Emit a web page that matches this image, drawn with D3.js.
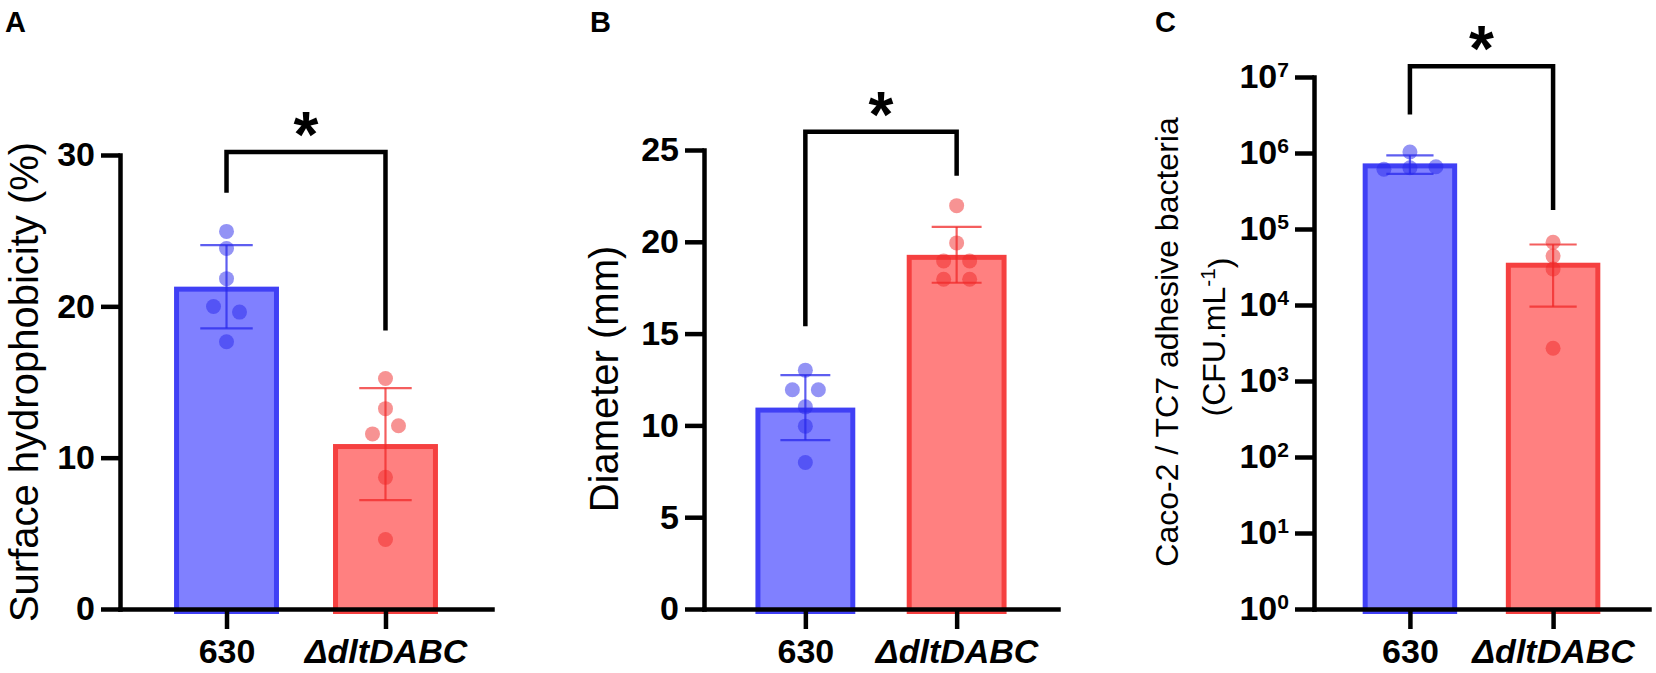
<!DOCTYPE html>
<html>
<head>
  <script src="https://cdn.jsdelivr.net/npm/d3@7"></script>
  <style>
    * { margin: 0; padding: 0; }
    body { background: white; }
  </style>
</head>
<body>
<script>
  // ---- data ----
  var strains = ["630", "ΔdltDABC"];

  // A: surface hydrophobicity (%)
  var hydroMean = [21.3, 10.9];
  var hydroSD = [2.75, 3.7];
  var hydro630 = [24.95, 23.82, 21.83, 19.99, 19.62, 17.66];
  var hydroDlt = [15.23, 13.24, 11.57, 12.11, 8.7, 4.59];
  var hydroTicks = [0, 10, 20, 30];
  var hydroSig = [27.5, 30.2, 18.4]; // left leg end, bar, right leg end

  // B: diameter (mm)
  var diamMean = [10.97, 19.29];
  var diamSD = [1.77, 1.52];
  var diam630 = [13.01, 11.94, 11.94, 11.01, 9.96, 7.98];
  var diamDlt = [21.97, 19.94, 18.96, 18.96, 17.96, 17.96];
  var diamTicks = [0, 5, 10, 15, 20, 25];
  var diamSig = [15.4, 26.0, 23.6];

  // C: adhesive bacteria (CFU/mL), log axis
  var cfuMean = [7.3e5, 3.6e4];
  var cfuSD = [2.0e5, 2.65e4];
  var cfu630 = [1.03e6, 6.1e5, 6.4e5, 6.6e5];
  var cfuDlt = [6.7e4, 4.4e4, 2.97e4, 2.7e3];
  var cfuTicks = [1, 10, 100, 1e3, 1e4, 1e5, 1e6, 1e7];
  var cfuSig = [3.2e6, 1.38e7, 1.78e5];

  // ---- setup ----
  var w = 1656, h = 673;
  var font = "'Liberation Sans', Arial, sans-serif";
  var baseY = 609; // y of the x axis

  var blue = { fill: "rgb(128,128,255)", stroke: "rgb(64,64,245)", dot: "rgb(40,40,235)" };
  var red = { fill: "rgb(255,128,128)", stroke: "rgb(245,64,64)", dot: "rgb(240,40,40)" };
  var cols = [blue, red];

  var svg = d3.select("body").append("svg")
    .attr("width", w)
    .attr("height", h);

  // spread points with nearly equal values side by side
  function jitter(vals, y, spacing, thresh) {
    var idx = vals.map(function(v, i) { return i; })
      .sort(function(a, b) { return y(vals[a]) - y(vals[b]); });
    var clusters = [], cur = [idx[0]];
    for (var k = 1; k < idx.length; k++) {
      if (Math.abs(y(vals[idx[k]]) - y(vals[idx[k - 1]])) < thresh) cur.push(idx[k]);
      else { clusters.push(cur); cur = [idx[k]]; }
    }
    clusters.push(cur);
    var off = [];
    clusters.forEach(function(c) {
      c.sort(function(a, b) { return a - b; });
      c.forEach(function(j, m) { off[j] = (m - (c.length - 1) / 2) * spacing; });
    });
    return off;
  }

  function panel(p) {
    var g = svg.append("g");
    var x = d3.scalePoint().domain(strains).range([p.x0, p.x1]).padding(0.67);
    var y = p.y;
    var barW = x.step() * 0.66;
    var sw = 5;

    // bars
    g.selectAll("rect.bar")
      .data(p.mean)
      .enter()
      .append("rect")
      .attr("class", "bar")
      .attr("x", function(d, i) { return x(strains[i]) - barW / 2 + sw / 2; })
      .attr("y", function(d) { return y(d) + sw / 2; })
      .attr("width", barW - sw)
      .attr("height", function(d) { return y.range()[0] - y(d); })
      .attr("fill", function(d, i) { return cols[i].fill; })
      .attr("stroke", function(d, i) { return cols[i].stroke; })
      .attr("stroke-width", sw);

    // error bars (mean +/- SD)
    p.mean.forEach(function(m, i) {
      var cx = x(strains[i]);
      var eb = g.append("g")
        .attr("stroke", cols[i].dot)
        .attr("stroke-opacity", 0.75)
        .attr("stroke-width", 2.2);
      eb.append("line")
        .attr("x1", cx).attr("x2", cx)
        .attr("y1", y(m - p.sd[i])).attr("y2", y(m + p.sd[i]));
      [m - p.sd[i], m + p.sd[i]].forEach(function(v) {
        eb.append("line")
          .attr("x1", cx - barW * 0.25).attr("x2", cx + barW * 0.25)
          .attr("y1", y(v)).attr("y2", y(v));
      });
    });

    // individual points
    p.pts.forEach(function(vals, i) {
      var off = jitter(vals, y, 26, 12);
      g.selectAll("circle.g" + i)
        .data(vals)
        .enter()
        .append("circle")
        .attr("class", "g" + i)
        .attr("cx", function(d, j) { return x(strains[i]) + off[j]; })
        .attr("cy", function(d) { return y(d); })
        .attr("r", 7.5)
        .attr("fill", cols[i].dot)
        .attr("fill-opacity", 0.5);
    });

    // y axis
    var ya = g.append("g")
      .attr("transform", "translate(" + p.x0 + ",0)")
      .call(d3.axisLeft(y).tickValues(p.ticks).tickSize(19).tickSizeOuter(0).tickPadding(6));
    if (p.log) {
      ya.selectAll(".tick text").each(function(d) {
        var t = d3.select(this).text("10");
        t.append("tspan")
          .attr("dy", "-0.55em")
          .attr("font-size", "0.62em")
          .text(Math.round(Math.log10(d)));
      });
    }

    // x axis
    var xa = g.append("g")
      .attr("transform", "translate(0," + baseY + ")")
      .call(d3.axisBottom(x).tickSize(20).tickSizeOuter(0).tickPadding(10));
    xa.selectAll(".tick text")
      .attr("font-style", function(d) { return d === "630" ? "normal" : "italic"; });

    [ya, xa].forEach(function(a) {
      a.attr("font-family", font)
        .attr("font-size", 34)
        .attr("font-weight", "bold");
      a.select(".domain").attr("stroke-width", 4.5).attr("stroke-linecap", "square");
      a.selectAll(".tick line").attr("stroke-width", 4.5);
      a.selectAll(".tick text").attr("fill", "black");
    });

    // significance bracket
    var xa0 = x(strains[0]), xb0 = x(strains[1]);
    g.append("path")
      .attr("d", "M" + xa0 + "," + y(p.sig[0]) + "V" + y(p.sig[1]) +
        "H" + xb0 + "V" + y(p.sig[2]))
      .attr("fill", "none")
      .attr("stroke", "black")
      .attr("stroke-width", 4.5);
    g.append("text")
      .attr("x", (xa0 + xb0) / 2)
      .attr("y", y(p.sig[1]) + 5)
      .attr("text-anchor", "middle")
      .attr("font-family", font)
      .attr("font-weight", "bold")
      .attr("font-size", 64)
      .text("*");

    // panel letter
    g.append("text")
      .attr("x", p.letterX)
      .attr("y", 32)
      .attr("font-family", font)
      .attr("font-weight", "bold")
      .attr("font-size", 29)
      .text(p.letter);

    // y title
    p.title.forEach(function(t) {
      g.append("text")
        .attr("transform", "translate(" + t.x + "," + t.y + ") rotate(-90)")
        .attr("text-anchor", "middle")
        .attr("dy", "0.35em")
        .attr("font-family", font)
        .attr("font-size", t.size)
        .html(t.text);
    });
  }

  panel({
    letter: "A", letterX: 5,
    x0: 120, x1: 492,
    y: d3.scaleLinear().domain([0, 30]).range([baseY, 155]),
    ticks: hydroTicks,
    mean: hydroMean, sd: hydroSD, pts: [hydro630, hydroDlt], sig: hydroSig,
    title: [{ x: 24, y: 382, size: 40, text: "Surface hydrophobicity (%)" }]
  });

  panel({
    letter: "B", letterX: 590,
    x0: 704, x1: 1058,
    y: d3.scaleLinear().domain([0, 25]).range([baseY, 150]),
    ticks: diamTicks,
    mean: diamMean, sd: diamSD, pts: [diam630, diamDlt], sig: diamSig,
    title: [{ x: 604, y: 379, size: 40, text: "Diameter (mm)" }]
  });

  panel({
    letter: "C", letterX: 1155, log: true,
    x0: 1314, x1: 1649,
    y: d3.scaleLog().domain([1, 1e7]).range([baseY, 77]),
    ticks: cfuTicks,
    mean: cfuMean, sd: cfuSD, pts: [cfu630, cfuDlt], sig: cfuSig,
    title: [
      { x: 1167, y: 342, size: 32, text: "Caco-2 / TC7 adhesive bacteria" },
      { x: 1214, y: 337, size: 32, text: "(CFU.mL<tspan dy='-0.5em' font-size='0.65em'>-1</tspan><tspan dy='0.5em'>)</tspan>" }
    ]
  });
</script>
</body>
</html>
